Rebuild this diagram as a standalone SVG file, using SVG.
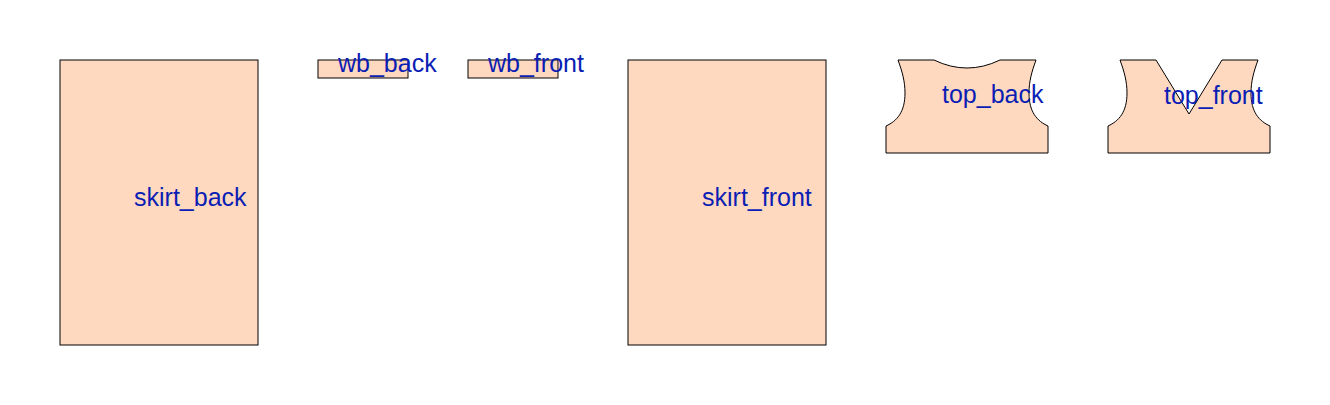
<svg xmlns="http://www.w3.org/2000/svg" width="1330" height="405" viewBox="0 0 1330 405">
<style>
.p{fill:#ffd8c0;stroke:#000;stroke-width:1}
.t{font-family:"Liberation Sans",Arial,sans-serif;font-size:25px;fill:#0a1eb4}
</style>
<rect width="1330" height="405" fill="#fff"/>
<g id="skirt_back"><rect class="p" x="60" y="60" width="198" height="285"/><text class="t" x="134" y="206">skirt_back</text></g>
<g id="wb_back"><rect class="p" x="318" y="60" width="90" height="18"/><text class="t" x="338" y="72">wb_back</text></g>
<g id="wb_front"><rect class="p" x="468" y="60" width="90" height="18"/><text class="t" x="488" y="72">wb_front</text></g>
<g id="skirt_front"><rect class="p" x="628" y="60" width="198" height="285"/><text class="t" x="702" y="206">skirt_front</text></g>
<g id="top_back"><path class="p" d="M898 60H934Q967 76 1000 60H1036C1032 71 1029 81 1029 93C1029 112 1037 121 1048 126V153H886V126C897 121 905 112 905 93C905 81 902 71 898 60Z"/><text class="t" x="942" y="103">top_back</text></g>
<g id="top_front"><path class="p" d="M1120 60H1156L1189 114L1222 60H1258C1254 71 1251 81 1251 93C1251 112 1259 121 1270 126V153H1108V126C1119 121 1127 112 1127 93C1127 81 1124 71 1120 60Z"/><text class="t" x="1164" y="104">top_front</text></g>
</svg>
